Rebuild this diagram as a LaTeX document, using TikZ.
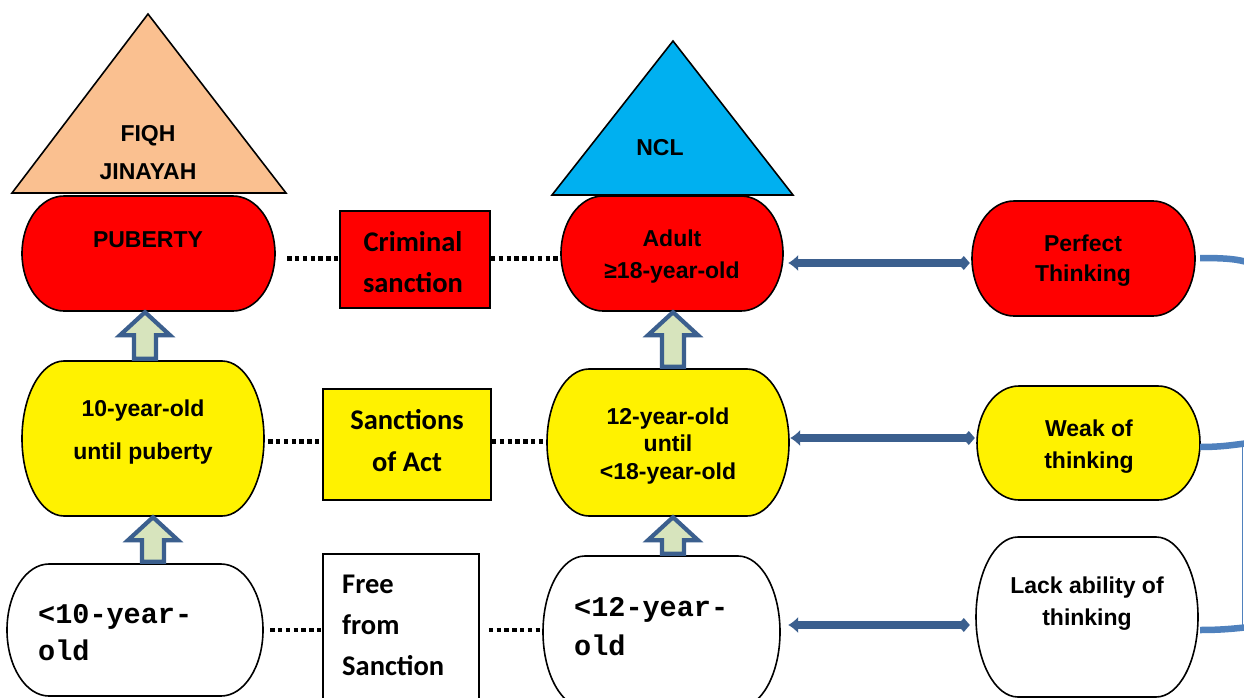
\documentclass[tikz,border=0pt]{standalone}
\usepackage{fontspec}
\setmainfont{Liberation Sans}
\newfontfamily\calib{Carlito}
\newfontfamily\cour{Liberation Mono}
\usetikzlibrary{arrows.meta,calc}
\definecolor{peach}{HTML}{FAC090}
\definecolor{nclblue}{HTML}{00B0F0}
\definecolor{arrblue}{HTML}{3B5F8E}
\definecolor{bracecol}{HTML}{4F81BD}
\definecolor{arrfill}{HTML}{D7E4BD}
\tikzset{
  boxline/.style={draw=black, line width=1.6pt},
  rectbox/.style={draw=black, line width=1.8pt, inner sep=0},
  lbl/.style={font=\bfseries\fontsize{23}{#1}\selectfont, align=center, inner sep=0},
  cal/.style={font=\calib\bfseries\fontsize{28.5}{#1}\selectfont, inner sep=0},
  mono/.style={font=\cour\bfseries\fontsize{28.5}{#1}\selectfont, align=left, inner sep=0},
  dotline/.style={line width=4.4pt, dash pattern=on 4.4pt off 3.4pt, black},
  dblarr/.style={line width=7.5pt, arrblue, {Latex[length=10pt,width=17pt]}-{Diamond[length=12pt,width=14pt]}},
  blockarr/.style={fill=arrfill, draw=arrblue, line width=4.2pt, line join=miter},
  bracel/.style={bracecol, line width=6.5pt},
}
\newcommand\capsule[6]{%
  \pgfmathsetmacro\cxa{#2+42}\pgfmathsetmacro\cxb{#4-42}%
  \pgfmathsetmacro\cym{(#3+#5)/2}\pgfmathsetmacro\cry{(#5-#3)/2}%
  \pgfmathsetmacro\kx{0.5523*42}\pgfmathsetmacro\ky{0.5523*\cry}%
  \pgfmathsetmacro\cw{#4-#2}\pgfmathsetmacro\chh{#5-#3}%
  \filldraw[fill=#6, boxline] (\cxa,#3) -- (\cxb,#3)
    .. controls ({\cxb+\kx},#3) and (#4,{\cym-\ky}) .. (#4,\cym)
    .. controls (#4,{\cym+\ky}) and ({\cxb+\kx},#5) .. (\cxb,#5)
    -- (\cxa,#5)
    .. controls ({\cxa-\kx},#5) and (#2,{\cym+\ky}) .. (#2,\cym)
    .. controls (#2,{\cym-\ky}) and ({\cxa-\kx},#3) .. cycle;
  \node[inner sep=0, minimum width=\cw pt, minimum height=\chh pt] (#1) at ({(#2+#4)/2},\cym) {};
}
\newcommand\blockup[3]{%
  \path[blockarr] let \p1=(#2.north), \p2=(#3.south) in
    ({#1pt-11pt},{\y1+2pt}) -- ({#1pt-11pt},{\y2-24pt}) -- ({#1pt-25pt},{\y2-24pt})
    -- ({#1pt},{\y2-1pt}) -- ({#1pt+25pt},{\y2-24pt}) -- ({#1pt+11pt},{\y2-24pt})
    -- ({#1pt+11pt},{\y1+2pt}) -- cycle;
}
\begin{document}
\begin{tikzpicture}[x=1pt,y=-1pt]
\useasboundingbox (0,0) rectangle (1244,698);
\clip (0,0) rectangle (1244,698);
\fill[white] (0,0) rectangle (1244,698);

% triangles
\filldraw[fill=peach, boxline, line join=miter] (148,14) -- (286,193) -- (12,193) -- cycle;
\node[lbl=38] (fiqh) at (148,153) {FIQH\\JINAYAH};
\filldraw[fill=nclblue, boxline, line join=miter] (673,41) -- (793,195) -- (552,195) -- cycle;
\node[lbl=30] (ncl) at (660,148) {NCL};

% row 1
\capsule{puberty}{22}{196}{275}{311}{red}
\node[lbl=30] (tpub) at (148,240) {PUBERTY};
\node[rectbox, fill=red, minimum width=150pt, minimum height=97pt] (crim) at (415,259.5) {};
\node[cal=41, align=center] (tcrim) at (413,262) {Criminal\\sanction};
\capsule{adult}{561}{196}{783}{311}{red}
\node[lbl=32] (tadult) at (672,257) {Adult\\≥18-year-old};
\capsule{perfect}{972}{201}{1195}{316}{red}
\node[lbl=30] (tperf) at (1083,261) {Perfect\\Thinking};

% row 2
\capsule{tenyr}{22}{361}{264}{516}{yellow}
\node[lbl=43] (tten) at (143,432) {10-year-old\\until puberty};
\node[rectbox, fill=yellow, minimum width=168pt, minimum height=111pt] (sanct) at (407,444.5) {};
\node[cal=42, align=center] (tsanct) at (407,441) {Sanctions\\of Act};
\capsule{twelve}{547}{369}{789}{516}{yellow}
\node[lbl=27.5] (ttwelve) at (668,446) {12-year-old\\until\\<18-year-old};
\capsule{weak}{977}{386}{1200}{500}{yellow}
\node[lbl=32] (tweak) at (1089,447) {Weak of\\thinking};

% row 3
\capsule{lt10}{7}{564}{263}{696}{white}
\node[mono=37, anchor=west] (tlt10) at (38,633) {<10-year-\\old};
\node[rectbox, fill=white, minimum width=156pt, minimum height=160pt, anchor=north west] (free) at (322,553) {};
\node[cal=41, align=left, anchor=west] (tfree) at (342,625) {Free\\from\\Sanction};
\capsule{lt12}{543}{556}{780}{708}{white}
\node[mono=39, anchor=west] (tlt12) at (574,627) {<12-year-\\old};
\capsule{lack}{976}{537}{1198}{697}{white}
\node[lbl=32] (tlack) at (1087,604) {Lack ability of\\thinking};

% dotted connectors
\coordinate (ya) at (0,258.5);
\coordinate (yb) at (0,441.5);
\coordinate (yc) at (0,630);
\draw[dotline, shorten <=12pt] (puberty.east |- ya) -- (crim.west |- ya);
\draw[dotline] (crim.east |- ya) -- ([xshift=-1pt]adult.west |- ya);
\draw[dotline, shorten <=4pt] (tenyr.east |- yb) -- (sanct.west |- yb);
\draw[dotline] (sanct.east |- yb) -- (twelve.west |- yb);
\draw[dotline, shorten <=7pt] (lt10.east |- yc) -- (free.west |- yc);
\draw[dotline, shorten <=9pt] (free.east |- yc) -- (lt12.west |- yc);

% double arrows
\coordinate (da) at (0,263);
\coordinate (db) at (0,438);
\coordinate (dc) at (0,625);
\draw[dblarr, shorten <=5pt, shorten >=2pt] (adult.east |- da) -- (perfect.west |- da);
\draw[dblarr, shorten <=1pt, shorten >=2pt] (twelve.east |- db) -- (weak.west |- db);
\draw[dblarr, shorten <=8pt, shorten >=6pt] (lt12.east |- dc) -- (lack.west |- dc);

% block arrows
\blockup{145}{tenyr}{puberty}
\blockup{153}{lt10}{tenyr}
\blockup{673}{twelve}{adult}
\blockup{673}{lt12}{twelve}

% brace
\coordinate (ba) at (0,258);
\coordinate (bb) at (0,447);
\coordinate (bc) at (0,630);
\coordinate (b1) at (1250,263);
\coordinate (b2) at (1250,443);
\coordinate (b3) at (1250,627);
\draw[bracel, shorten <=5pt] (perfect.east |- ba) .. controls (1225,258) and (1238,259) .. (b1);
\draw[bracel] (weak.east |- bb) .. controls (1225,447) and (1238,444) .. (b2);
\draw[bracel, shorten <=2pt] (lack.east |- bc) .. controls (1225,630) and (1238,628) .. (b3);
\draw[bracecol, line width=1.8pt] (1242.5,445) -- (1242.5,628);
\end{tikzpicture}
\end{document}
